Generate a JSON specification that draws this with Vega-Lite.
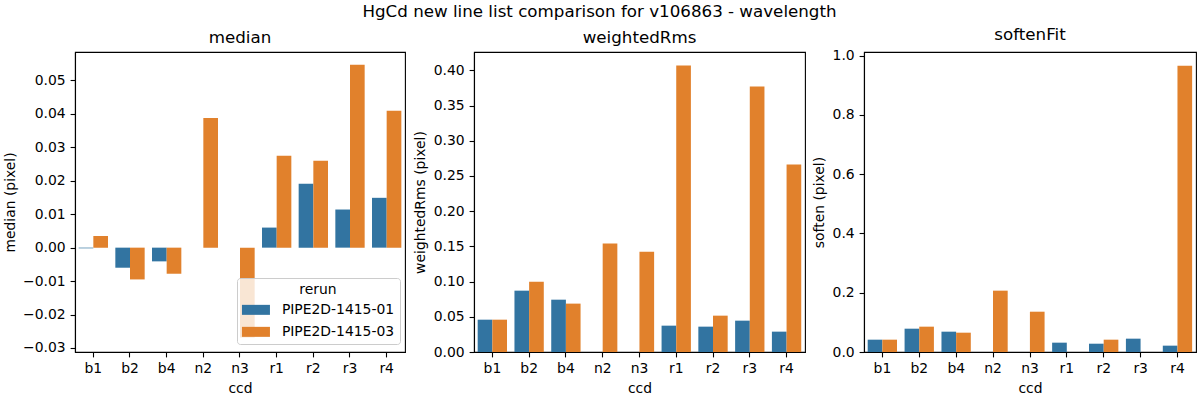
{
  "$schema": "https://vega.github.io/schema/vega-lite/v6.json",
  "background": "white",
  "padding": {"left": 2, "top": 3, "right": 3, "bottom": 5},
  "title": {"text": "HgCd new line list comparison for v106863 - wavelength", "fontSize": 16.7, "fontWeight": "normal", "font": "DejaVu Sans", "color": "black", "anchor": "middle", "offset": 6},
  "datasets": {
    "d": [
      {"ccd": "b1", "rerun": "PIPE2D-1415-01", "median": -0.0002, "weightedRms": 0.0459, "soften": 0.0416},
      {"ccd": "b1", "rerun": "PIPE2D-1415-03", "median": 0.0035, "weightedRms": 0.0459, "soften": 0.0416},
      {"ccd": "b2", "rerun": "PIPE2D-1415-01", "median": -0.006, "weightedRms": 0.0871, "soften": 0.0787},
      {"ccd": "b2", "rerun": "PIPE2D-1415-03", "median": -0.0095, "weightedRms": 0.0999, "soften": 0.0855},
      {"ccd": "b4", "rerun": "PIPE2D-1415-01", "median": -0.0041, "weightedRms": 0.0743, "soften": 0.0686},
      {"ccd": "b4", "rerun": "PIPE2D-1415-03", "median": -0.0078, "weightedRms": 0.0687, "soften": 0.0652},
      {"ccd": "n2", "rerun": "PIPE2D-1415-01", "median": null, "weightedRms": null, "soften": null},
      {"ccd": "n2", "rerun": "PIPE2D-1415-03", "median": 0.0388, "weightedRms": 0.1539, "soften": 0.207},
      {"ccd": "n3", "rerun": "PIPE2D-1415-01", "median": null, "weightedRms": null, "soften": null},
      {"ccd": "n3", "rerun": "PIPE2D-1415-03", "median": -0.0269, "weightedRms": 0.1425, "soften": 0.136},
      {"ccd": "r1", "rerun": "PIPE2D-1415-01", "median": 0.006, "weightedRms": 0.0374, "soften": 0.0315},
      {"ccd": "r1", "rerun": "PIPE2D-1415-03", "median": 0.0275, "weightedRms": 0.4067, "soften": null},
      {"ccd": "r2", "rerun": "PIPE2D-1415-01", "median": 0.0191, "weightedRms": 0.036, "soften": 0.028},
      {"ccd": "r2", "rerun": "PIPE2D-1415-03", "median": 0.026, "weightedRms": 0.0516, "soften": 0.0416},
      {"ccd": "r3", "rerun": "PIPE2D-1415-01", "median": 0.0114, "weightedRms": 0.0445, "soften": 0.045},
      {"ccd": "r3", "rerun": "PIPE2D-1415-03", "median": 0.0547, "weightedRms": 0.3769, "soften": null},
      {"ccd": "r4", "rerun": "PIPE2D-1415-01", "median": 0.0149, "weightedRms": 0.0289, "soften": 0.0214},
      {"ccd": "r4", "rerun": "PIPE2D-1415-03", "median": 0.0409, "weightedRms": 0.2661, "soften": 0.966}
    ]
  },
  "config": {
    "font": "DejaVu Sans",
    "view": {"stroke": "black", "strokeWidth": 1.1},
    "title": {"fontSize": 16.7, "fontWeight": "normal", "color": "black", "offset": 5},
    "axis": {"labelFont": "DejaVu Sans", "titleFont": "DejaVu Sans", "labelFontSize": 13.9, "titleFontSize": 13.9, "titleFontWeight": "normal", "labelColor": "black", "titleColor": "black", "domainColor": "black", "tickColor": "black", "tickSize": 4.9, "tickWidth": 1.1, "domainWidth": 1.1, "labelPadding": 4.9, "titlePadding": 5.6, "grid": false},
    "legend": {"labelFont": "DejaVu Sans", "titleFont": "DejaVu Sans", "labelFontSize": 13.9, "titleFontSize": 13.9, "titleFontWeight": "normal", "labelColor": "black", "titleColor": "black"}
  },
  "spacing": 69,
  "bounds": "flush",
  "resolve": {"legend": {"color": "independent"}},
  "hconcat": [
    {
      "data": {"name": "d"},
      "width": 330, "height": 300,
      "title": "median",
      "mark": {"type": "bar"},
      "encoding": {
        "x": {"field": "ccd", "type": "nominal", "title": "ccd", "scale": {"paddingInner": 0.2, "paddingOuter": 0.1}, "axis": {"labelAngle": 0}},
        "xOffset": {"field": "rerun", "type": "nominal", "scale": {"domain": ["PIPE2D-1415-01", "PIPE2D-1415-03"], "paddingInner": 0, "paddingOuter": 0}},
        "y": {"field": "median", "type": "quantitative", "title": "median (pixel)", "scale": {"domain": [-0.0312, 0.0585], "nice": false, "zero": false}, "axis": {"values": [-0.03, -0.02, -0.01, 0, 0.01, 0.02, 0.03, 0.04, 0.05], "format": ".2f"}},
        "color": {"field": "rerun", "type": "nominal", "scale": {"domain": ["PIPE2D-1415-01", "PIPE2D-1415-03"], "range": ["#3274a1", "#e1812c"]},
          "legend": {"title": "rerun", "orient": "none", "legendX": 162, "legendY": 226, "padding": 5, "fillColor": "rgba(255,255,255,0.8)", "strokeColor": "#cccccc", "cornerRadius": 3, "symbolType": "M-2.8,-1H2.8V1H-2.8Z", "symbolSize": 100, "symbolStrokeWidth": 0, "symbolOpacity": 1, "symbolOffset": 7, "labelOffset": 19, "rowPadding": 7, "titleAnchor": "middle", "titleAlign": "center", "titlePadding": 6}}
      }
    },
    {
      "hconcat": [
        {
          "data": {"name": "d"},
          "width": 331, "height": 300,
          "title": "weightedRms",
          "mark": {"type": "bar"},
          "encoding": {
            "x": {"field": "ccd", "type": "nominal", "title": "ccd", "scale": {"paddingInner": 0.2, "paddingOuter": 0.1}, "axis": {"labelAngle": 0}},
            "xOffset": {"field": "rerun", "type": "nominal", "scale": {"domain": ["PIPE2D-1415-01", "PIPE2D-1415-03"], "paddingInner": 0, "paddingOuter": 0}},
            "y": {"field": "weightedRms", "type": "quantitative", "title": "weightedRms (pixel)", "scale": {"domain": [0, 0.426], "nice": false}, "axis": {"values": [0, 0.05, 0.1, 0.15, 0.2, 0.25, 0.3, 0.35, 0.4], "format": ".2f"}},
            "color": {"field": "rerun", "type": "nominal", "scale": {"domain": ["PIPE2D-1415-01", "PIPE2D-1415-03"], "range": ["#3274a1", "#e1812c"]}, "legend": null}
          }
        },
        {
          "data": {"name": "d"},
          "width": 332, "height": 300,
          "title": "softenFit",
          "mark": {"type": "bar"},
          "encoding": {
            "x": {"field": "ccd", "type": "nominal", "title": "ccd", "scale": {"paddingInner": 0.2, "paddingOuter": 0.1}, "axis": {"labelAngle": 0}},
            "xOffset": {"field": "rerun", "type": "nominal", "scale": {"domain": ["PIPE2D-1415-01", "PIPE2D-1415-03"], "paddingInner": 0, "paddingOuter": 0}},
            "y": {"field": "soften", "type": "quantitative", "title": "soften (pixel)", "scale": {"domain": [0, 1.0124], "nice": false}, "axis": {"values": [0, 0.2, 0.4, 0.6, 0.8, 1.0], "format": ".1f"}},
            "color": {"field": "rerun", "type": "nominal", "scale": {"domain": ["PIPE2D-1415-01", "PIPE2D-1415-03"], "range": ["#3274a1", "#e1812c"]}, "legend": null}
          }
        }
      ],
      "spacing": 59,
      "bounds": "flush",
      "resolve": {"legend": {"color": "independent"}}
    }
  ]
}
